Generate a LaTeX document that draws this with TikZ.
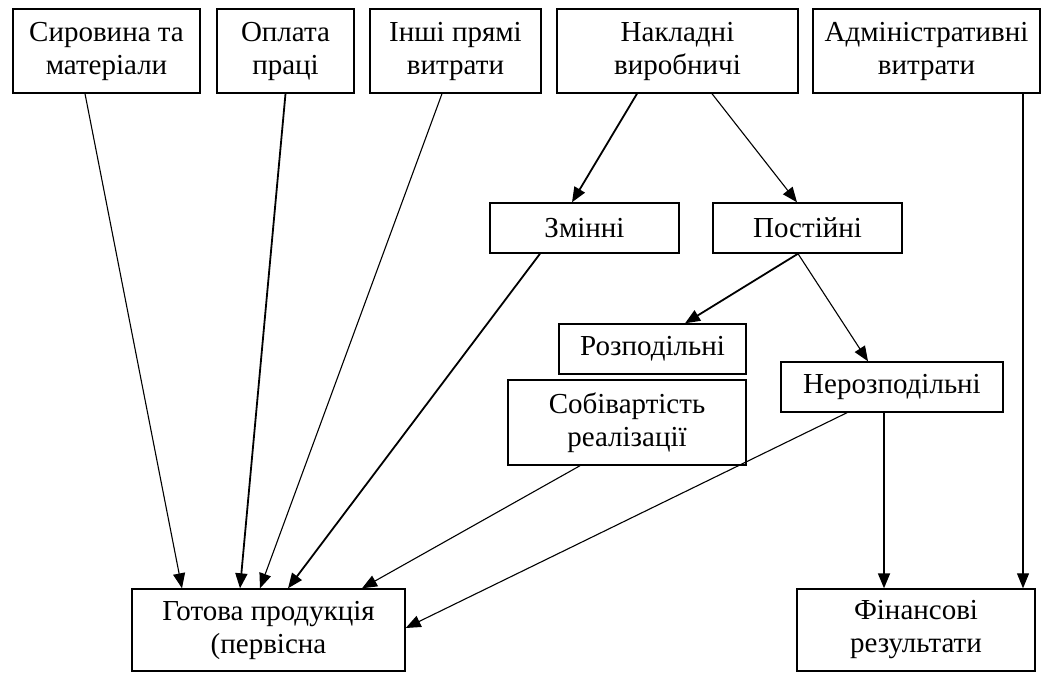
\documentclass[tikz,border=0pt]{standalone}
\usepackage{fontspec}
\setmainfont{Liberation Serif}
\usetikzlibrary{arrows.meta}
\begin{document}
\begin{tikzpicture}[x=1pt,y=-1pt,
  blok/.style={draw, line width=1.4pt, inner sep=0pt, align=center, font=\fontsize{29}{33}\selectfont},
  strilka/.style={-{Triangle[length=15pt,width=12pt]}, line width=1.1pt},
  tovsta/.style={strilka, line width=1.8pt}]
\useasboundingbox (0,0) rectangle (1048,675);
\node[blok, minimum width=187pt, minimum height=84pt] (syr) at (106.5,51){Сировина та\\матеріали};
\node[blok, minimum width=137pt, minimum height=84pt] (opl) at (285.5,51){Оплата\\праці};
\node[blok, minimum width=171pt, minimum height=84pt] (insh) at (455.5,51){Інші прямі\\витрати};
\node[blok, minimum width=241pt, minimum height=84pt] (nakl) at (677.5,51){Накладні\\виробничі};
\node[blok, minimum width=227pt, minimum height=84pt] (adm) at (926.5,51){Адміністративні\\витрати};
\node[blok, minimum width=189pt, minimum height=50pt] (zmin) at (584.5,228){Змінні};
\node[blok, minimum width=189pt, minimum height=50pt] (post) at (807.5,228){Постійні};
\node[blok, minimum width=187pt, minimum height=50pt] (rozp) at (652.5,349){Розподільні};
\node[blok, minimum width=222pt, minimum height=50pt] (nerozp) at (892,387){Нерозподільні};
\node[blok, minimum width=238pt, minimum height=85pt] (sobiv) at (627,422.5){Собівартість\\реалізації};
\node[blok, minimum width=273pt, minimum height=82pt] (got) at (268.5,630){Готова продукція\\(первісна};
\node[blok, minimum width=238pt, minimum height=82pt] (fin) at (916,630){Фінансові\\результати};
\draw[strilka]([xshift=-21.5pt]syr.south) -- ([xshift=-86.5pt]got.north);
\draw[tovsta]([xshift=0pt]opl.south) -- ([xshift=-28.5pt]got.north);
\draw[strilka]([xshift=-13.5pt]insh.south) -- ([xshift=-8.5pt]got.north);
\draw[tovsta]([xshift=-44.5pt]zmin.south) -- ([xshift=19.5pt]got.north);
\draw[strilka]([xshift=-47pt]sobiv.south) -- ([xshift=93.5pt]got.north);
\draw[strilka]([xshift=-45pt]nerozp.south) -- ([yshift=2pt]got.east);
\draw[tovsta]([xshift=-40.5pt]nakl.south) -- ([xshift=-12.5pt]zmin.north);
\draw[strilka]([xshift=34.5pt]nakl.south) -- ([xshift=-10.5pt]post.north);
\draw[tovsta]([xshift=-9.5pt]post.south) -- ([xshift=32.5pt]rozp.north);
\draw[strilka]([xshift=-9.5pt]post.south) -- ([xshift=-24pt]nerozp.north);
\draw[tovsta]([xshift=-8pt]nerozp.south) -- ([xshift=-8pt]nerozp.south |- fin.north);
\draw[strilka]([xshift=96.5pt]adm.south) -- ([xshift=96.5pt]adm.south |- fin.north);
\end{tikzpicture}
\end{document}
